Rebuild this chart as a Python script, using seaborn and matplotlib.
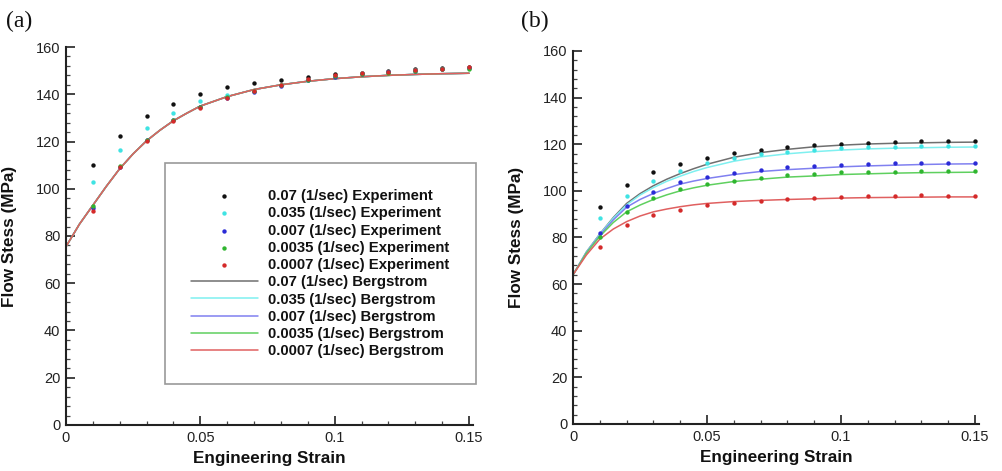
import numpy as np
import pandas as pd
import matplotlib
matplotlib.use("Agg")
import matplotlib.pyplot as plt
from matplotlib.ticker import MultipleLocator, FuncFormatter
import seaborn as sns

# ---- data -------------------------------------------------------------
rates = ["0.07", "0.035", "0.007", "0.0035", "0.0007"]

exp_strain = [0.01, 0.02, 0.03, 0.04, 0.05, 0.06, 0.07, 0.08,
              0.09, 0.10, 0.11, 0.12, 0.13, 0.14, 0.15]
fit_strain = [0.0, 0.005, 0.01, 0.015, 0.02, 0.025, 0.03, 0.035, 0.04,
              0.045, 0.05, 0.06, 0.07, 0.08, 0.09, 0.10, 0.11, 0.12,
              0.13, 0.14, 0.15]

# panel (a): experiments
a_exp_007 = [110.0, 122.3, 130.8, 135.8, 140.0, 143.0, 144.8, 146.2,
             147.5, 148.5, 149.2, 149.8, 150.5, 151.2, 151.5]
a_exp_0035 = [102.8, 116.5, 125.6, 132.2, 137.0, 139.5, 141.5, 143.8,
              146.0, 147.6, 148.8, 149.6, 150.3, 150.8, 151.2]
a_exp_0007 = [92.0, 109.0, 120.5, 129.0, 134.5, 138.5, 140.8, 143.5,
              146.0, 147.4, 148.5, 149.5, 150.0, 150.6, 151.0]
a_exp_00035 = [92.8, 109.5, 120.8, 129.2, 134.8, 138.8, 141.5, 144.0,
               146.2, 147.8, 148.6, 149.2, 150.0, 150.5, 150.8]
a_exp_00007 = [90.5, 109.0, 120.3, 128.8, 134.3, 138.3, 141.2, 143.8,
               146.5, 148.0, 148.8, 149.6, 150.2, 150.8, 151.5]
# panel (a): Bergstrom fit (identical for all rates)
a_fit = [75.5, 85.0, 93.0, 101.0, 108.5, 114.8, 120.3, 124.8, 128.8,
         132.0, 135.0, 139.0, 142.0, 144.0, 145.5, 146.6, 147.4, 148.0,
         148.4, 148.7, 148.9]

# panel (b): experiments
b_exp_007 = [93.1, 102.5, 107.9, 111.4, 114.3, 116.4, 117.7, 118.9,
             119.5, 120.2, 120.5, 120.8, 121.2, 121.2, 121.2]
b_exp_0035 = [88.3, 97.9, 104.4, 108.6, 111.9, 113.9, 115.6, 116.6,
              117.4, 118.5, 118.9, 119.0, 119.2, 119.3, 119.4]
b_exp_0007 = [82.0, 93.4, 99.3, 103.6, 106.0, 107.6, 109.1, 110.1,
              110.7, 111.3, 111.6, 111.9, 111.9, 112.1, 112.1]
b_exp_00035 = [80.3, 91.0, 97.0, 100.6, 102.9, 104.3, 105.7, 106.7,
               107.3, 107.9, 107.9, 108.1, 108.4, 108.4, 108.7]
b_exp_00007 = [76.0, 85.3, 89.6, 92.0, 93.9, 95.0, 95.7, 96.3,
               96.8, 97.3, 97.7, 98.0, 98.3, 98.0, 98.0]
# panel (b): Bergstrom fits
b_fit_007 = [64.0, 73.8, 81.5, 88.5, 94.6, 98.8, 102.2, 105.0, 107.4,
             109.5, 111.4, 114.4, 116.4, 117.8, 118.9, 119.6, 120.1,
             120.4, 120.6, 120.8, 120.9]
b_fit_0035 = [64.0, 73.7, 81.4, 88.2, 94.0, 98.2, 101.4, 104.1, 106.3,
              108.3, 110.0, 112.7, 114.6, 115.9, 116.8, 117.5, 118.0,
              118.3, 118.5, 118.7, 118.8]
b_fit_0007 = [64.0, 73.5, 81.0, 87.5, 93.0, 96.3, 98.9, 101.0, 102.9,
              104.2, 105.3, 107.0, 108.3, 109.1, 109.7, 110.3, 110.7,
              111.0, 111.3, 111.5, 111.6]
b_fit_00035 = [64.0, 73.3, 80.5, 86.4, 91.0, 93.9, 96.3, 98.3, 100.0,
               101.3, 102.4, 104.0, 105.0, 105.9, 106.4, 107.0, 107.3,
               107.6, 107.8, 107.9, 108.0]
b_fit_00007 = [64.0, 72.5, 79.3, 83.6, 86.8, 89.2, 91.0, 92.2, 93.2,
               94.0, 94.6, 95.4, 95.9, 96.3, 96.6, 96.9, 97.1, 97.2,
               97.3, 97.4, 97.4]

a_exp = [a_exp_007, a_exp_0035, a_exp_0007, a_exp_00035, a_exp_00007]
a_fits = [a_fit] * 5
b_exp = [b_exp_007, b_exp_0035, b_exp_0007, b_exp_00035, b_exp_00007]
b_fits = [b_fit_007, b_fit_0035, b_fit_0007, b_fit_00035, b_fit_00007]

point_colors = ["#111111", "#3fe3e3", "#2b2bd6", "#2fb52f", "#d42a2a"]
line_colors = ["#6f6f6f", "#7ff0f0", "#8080f0", "#5fd05f", "#e06060"]

# ---- style ------------------------------------------------------------
sns.set_theme(style="ticks")
plt.rcParams["font.family"] = ["Liberation Sans", "DejaVu Sans"]
plt.rcParams["axes.linewidth"] = 1.5

fig = plt.figure(figsize=(10.03, 4.71), dpi=100)
ax_a = fig.add_axes([0.0658, 0.0977, 0.4058, 0.8025])
ax_b = fig.add_axes([0.5713, 0.0998, 0.4048, 0.7920])


def tick_fmt(v, _pos):
    if abs(v) < 1e-9:
        return "0"
    return ("%.2f" % v).rstrip("0").rstrip(".")


def draw_panel(ax, exp_sets, fit_sets):
    for r, ys, col in zip(rates, fit_sets, line_colors):
        df = pd.DataFrame({"strain": fit_strain, "stress": ys})
        sns.lineplot(data=df, x="strain", y="stress", ax=ax, color=col,
                     linewidth=1.1, sort=False, estimator=None,
                     label=f"{r} (1/sec) Bergstrom", zorder=2)
    for r, ys, col in zip(rates, exp_sets, point_colors):
        df = pd.DataFrame({"strain": exp_strain, "stress": ys})
        sns.scatterplot(data=df, x="strain", y="stress", ax=ax, color=col,
                        s=10, linewidth=0, label=f"{r} (1/sec) Experiment",
                        zorder=3, clip_on=False)
    ax.set_xlim(0, 0.1515)
    ax.set_ylim(0, 160)
    ax.xaxis.set_major_locator(MultipleLocator(0.05))
    ax.xaxis.set_minor_locator(MultipleLocator(0.01))
    ax.yaxis.set_major_locator(MultipleLocator(20))
    ax.yaxis.set_minor_locator(MultipleLocator(4))
    ax.xaxis.set_major_formatter(FuncFormatter(tick_fmt))
    ax.tick_params(which="major", direction="in", length=6.5, width=1.2,
                   labelsize=10.5, color="#222222", labelcolor="#222222")
    ax.tick_params(which="minor", direction="in", length=3, width=0.9,
                   color="#444444")
    ax.tick_params(axis="x", pad=4)
    ax.tick_params(axis="y", pad=4)
    for side in ("top", "right"):
        ax.spines[side].set_visible(False)
    for side in ("left", "bottom"):
        ax.spines[side].set_color("#222222")
    ax.set_xlabel("Engineering Strain", fontsize=12.3, fontweight="bold",
                  color="#111111")
    ax.set_ylabel("Flow Stess (MPa)", fontsize=12.3, fontweight="bold",
                  color="#111111")
    ax.xaxis.set_label_coords(0.5, -0.07)
    ax.yaxis.set_label_coords(-0.12, 0.5)
    return ax.get_legend_handles_labels()


handles, labels = draw_panel(ax_a, a_exp, a_fits)
draw_panel(ax_b, b_exp, b_fits)
ax_b.get_legend().remove()

# experiments first, then the fits
order = list(range(5, 10)) + list(range(0, 5))
leg = ax_a.legend([handles[i] for i in order], [labels[i] for i in order],
                  loc="upper left", bbox_to_anchor=(0.1645, 0.654),
                  bbox_transform=fig.transFigure, frameon=True,
                  fancybox=False, edgecolor="#999999", framealpha=1.0,
                  borderpad=1.75, borderaxespad=0.0, labelspacing=0.22,
                  handlelength=4.5, handletextpad=0.7, markerscale=1.0,
                  prop={"size": 10.7, "weight": "bold"})
leg.get_frame().set_linewidth(1.2)
for t in leg.get_texts():
    t.set_color("#111111")

fig.text(0.006, 0.955, "(a)", fontsize=17, family="Liberation Serif",
         va="center", ha="left", color="#111111")
fig.text(0.519, 0.955, "(b)", fontsize=17, family="Liberation Serif",
         va="center", ha="left", color="#111111")

fig.savefig("out.png", dpi=100, facecolor="white")
